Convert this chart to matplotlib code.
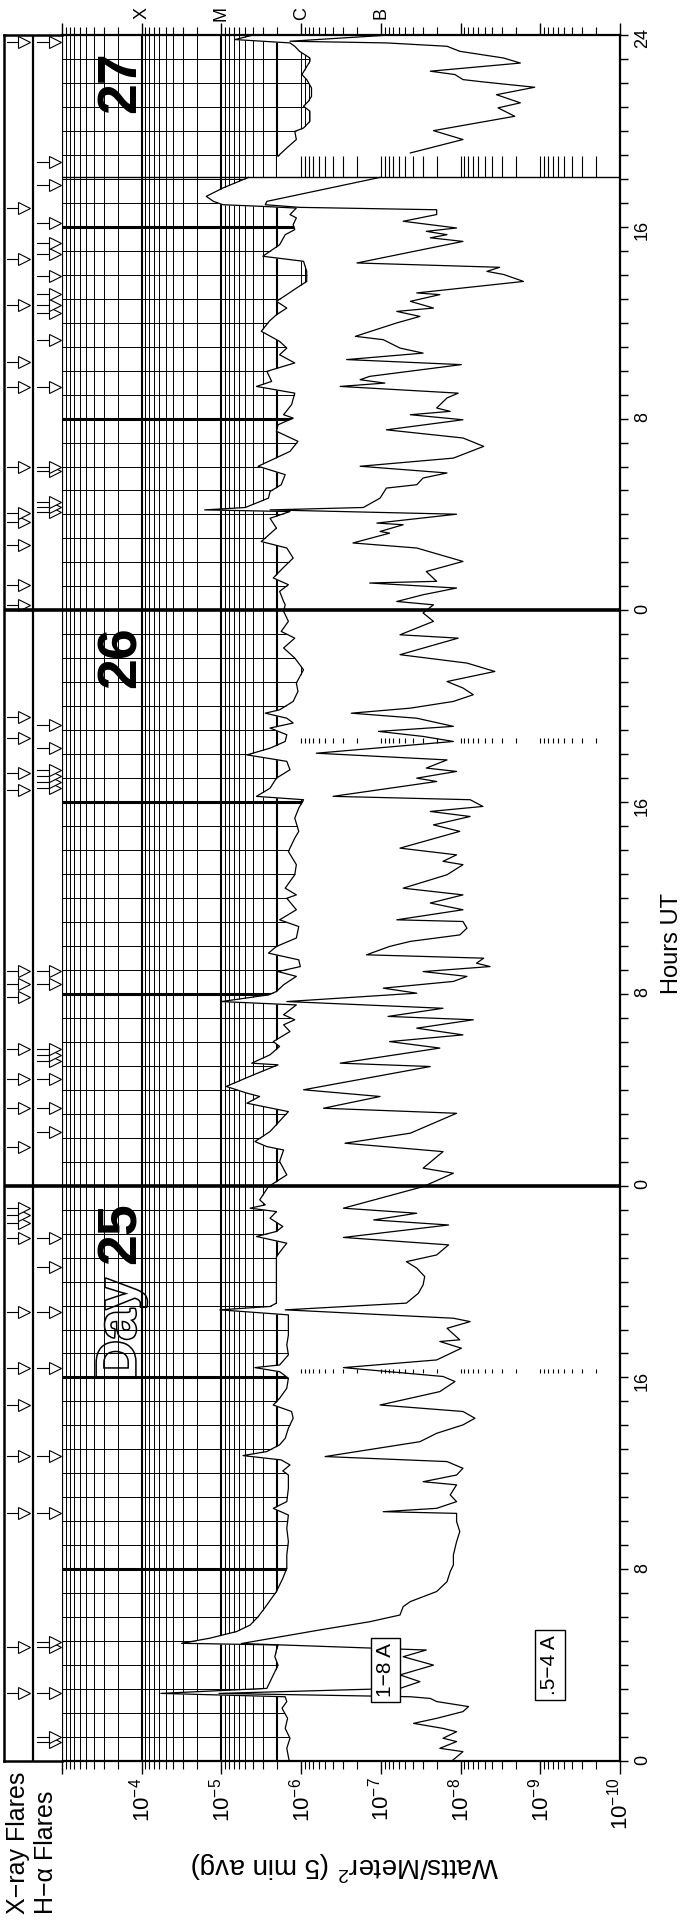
import numpy as np
import matplotlib
matplotlib.use('Agg')
import matplotlib.pyplot as plt
from matplotlib import patheffects
from matplotlib.transforms import blended_transform_factory

plt.rcParams['font.family'] = ['Liberation Sans', 'DejaVu Sans']
plt.rcParams['mathtext.fontset'] = 'custom'
plt.rcParams['mathtext.rm'] = 'Liberation Sans'
plt.rcParams['mathtext.it'] = 'Liberation Sans:italic'

# hours since 25 00 UT, log10 of flux (W/m^2)
t_long = [0.00, 0.53, 0.95, 1.36, 1.78, 2.20, 2.48, 2.68, 2.82, 3.03, 3.31, 3.59, 4.00, 4.35,
          4.63, 4.84, 4.91, 5.12, 5.40, 5.67, 6.02, 6.37, 6.79, 7.07, 7.62, 8.04, 8.60, 9.15,
          9.71, 10.26, 10.54, 10.82, 11.38, 11.93, 12.10, 12.35, 12.56, 12.74, 12.91, 13.19,
          13.46, 13.88, 14.30, 14.58, 14.85, 15.13, 15.55, 15.97, 16.24, 16.41, 16.52, 16.94,
          17.36, 17.77, 18.19, 18.61, 18.82, 18.96, 19.10, 19.86, 20.56, 21.04, 21.39, 21.60,
          21.88, 22.09, 22.30, 22.64, 22.92, 23.06, 23.20, 23.41, 23.76, 23.96, 24.45, 25.01,
          25.49, 25.63, 25.84, 26.26, 27.09, 27.44, 27.72, 27.86, 28.14, 28.62, 29.04, 29.11,
          29.46, 29.81, 30.01, 30.43, 30.71, 30.92, 31.13, 31.54, 31.68, 31.96, 32.10, 32.38,
          32.73, 32.93, 33.14, 33.42, 33.70, 33.98, 34.33, 34.81, 35.09, 35.51, 35.99, 36.13,
          36.41, 36.97, 37.39, 37.94, 38.50, 38.78, 39.33, 39.75, 40.10, 40.24, 40.58, 41.00,
          41.35, 41.70, 41.97, 42.25, 42.53, 42.81, 43.09, 43.30, 43.50, 43.71, 43.85, 44.20,
          44.62, 44.97, 45.52, 46.01, 46.43, 46.84, 47.12, 47.54, 47.96, 48.23, 48.37, 48.79,
          49.07, 49.35, 49.76, 50.18, 50.60, 50.87, 51.43, 51.84, 52.12, 52.19, 52.29, 52.68,
          52.96, 53.24, 53.66, 54.01, 54.63, 55.05, 55.47, 55.74, 56.02, 56.16, 56.58, 57.06,
          57.34, 57.55, 57.97, 58.32, 58.66, 58.94, 59.22, 59.64, 60.06, 60.33, 60.61, 60.89,
          61.17, 61.44, 61.72, 62.14, 62.56, 62.77, 62.98, 63.25, 63.67, 63.88, 64.09, 64.37,
          64.51, 64.78, 64.85, 64.92, 65.06, 65.27, 65.62, 66.06,
          66.94, 67.01, 67.29, 67.64, 67.98, 68.12, 68.40, 68.82, 69.03, 69.23, 69.44, 69.79,
          70.14, 70.35, 70.90, 71.04, 71.32, 71.53, 71.67, 71.81, 72.00]
f_long = [-5.85, -5.82, -5.86, -5.80, -5.83, -5.76, -5.82, -5.80, -4.24, -5.57, -5.61, -5.65, -5.71, -5.67,
          -5.69, -5.71, -4.50, -4.85, -5.19, -5.36, -5.46, -5.54, -5.63, -5.69, -5.77, -5.82, -5.82, -5.84,
          -5.82, -5.84, -5.65, -5.82, -5.84, -5.84, -5.77, -5.86, -5.75, -5.27, -5.57, -5.73,
          -5.80, -5.84, -5.90, -5.88, -5.65, -5.73, -5.82, -5.84, -5.73, -5.42, -5.73, -5.84,
          -5.82, -5.84, -5.84, -5.84, -4.98, -5.61, -5.69, -5.69, -5.69, -5.69, -5.77, -5.82,
          -5.44, -5.69, -5.77, -5.61, -5.69, -5.36, -5.55, -5.48, -5.55, -5.59, -5.82, -5.73,
          -5.78, -5.57, -5.42, -5.61, -5.84, -5.32, -5.48, -5.32, -5.06, -5.40, -5.71, -5.38,
          -5.61, -5.73, -5.65, -5.86, -5.78, -5.92, -5.78, -5.94, -5.00, -5.59, -5.69, -5.78,
          -5.94, -5.71, -5.99, -5.97, -5.59, -5.69, -5.94, -5.97, -5.73, -5.94, -5.82, -5.94,
          -5.80, -5.92, -5.94, -5.84, -5.92, -5.97, -5.92, -5.97, -6.03, -5.44, -5.61, -5.69,
          -5.86, -5.82, -5.32, -5.61, -5.80, -5.82, -5.61, -5.90, -5.82, -5.55, -5.73, -5.90,
          -5.96, -5.94, -6.03, -5.92, -5.78, -5.92, -5.75, -5.84, -5.78, -5.80, -5.78, -5.73,
          -5.84, -5.65, -5.77, -5.90, -5.82, -5.50, -5.69, -5.61, -5.86, -4.79, -5.30, -5.59,
          -5.61, -5.75, -5.80, -5.46, -5.86, -5.96, -5.69, -5.71, -5.90, -5.78, -5.88, -5.92,
          -5.44, -5.63, -5.57, -5.92, -5.73, -5.82, -5.73, -5.50, -5.60, -5.69, -5.82, -5.69,
          -5.82, -5.94, -6.07, -6.07, -6.03, -5.52, -5.61, -5.73, -5.80, -5.92, -5.90, -5.94,
          -5.86, -5.94, -5.52, -5.02, -4.90, -4.81, -5.02, -5.34,
          -5.71, -5.73, -5.82, -5.94, -5.92, -6.03, -6.11, -6.11, -6.03, -6.09, -6.13, -6.13,
          -6.07, -6.01, -6.11, -6.11, -5.98, -5.92, -5.86, -5.17, -5.40]

t_short = [0.00, 0.39, 0.53, 0.81, 0.95, 1.22, 1.36, 1.57, 1.78, 2.06, 2.27, 2.48, 2.61, 2.68, 2.82,
           3.03, 3.31, 3.59, 4.00, 4.35, 4.63, 4.90, 5.47, 5.81, 6.09, 6.44, 6.65, 7.07, 7.48, 7.90,
           8.18, 8.60, 9.15, 9.57, 9.99, 10.33, 10.40, 10.54, 10.82, 11.10, 11.52, 11.65, 11.93,
           12.21, 12.49, 12.70, 13.32, 13.67, 14.02, 14.30, 14.58, 14.85, 15.41, 15.83, 16.04,
           16.41, 16.73, 17.22, 17.50, 17.57, 18.05, 18.33, 18.47, 18.82, 19.10, 19.51, 19.86,
           20.21, 20.56, 20.83, 21.11, 21.53, 21.84, 22.36, 22.57, 22.85, 23.06, 23.96, 24.52,
           24.73, 25.42, 25.77, 26.19, 27.02, 27.23, 27.72, 28.00, 28.41, 28.97, 29.11, 29.74,
           30.01, 30.29, 30.57, 30.92, 31.06, 31.40, 31.68, 32.03, 32.24, 32.52, 32.73, 32.93,
           33.14, 33.28, 33.49, 33.63, 33.98, 34.19, 34.46, 34.74, 35.02, 35.09, 35.51, 35.79,
           36.13, 36.41, 36.97, 37.39, 37.53, 37.80, 38.08, 38.78, 39.05, 39.40, 39.61, 39.82,
           40.10, 40.24, 40.86, 41.00, 41.28, 41.42, 41.76, 42.04, 42.53, 42.74, 42.95, 43.16,
           43.50, 43.71, 43.92, 44.20, 44.48, 44.76, 45.03, 45.45, 45.80, 46.15, 46.84, 46.98,
           47.54, 47.89, 48.23, 48.37, 48.65, 48.93, 49.14, 49.21, 49.62, 50.04, 50.60, 50.81,
           51.22, 51.29, 51.57, 51.64, 52.01, 52.19, 52.29, 52.68, 53.10, 53.24, 53.52, 53.73,
           54.01, 54.35, 54.84, 55.19, 55.53, 55.95, 56.16, 56.30, 56.44, 56.86, 57.06, 57.34,
           57.48, 57.62, 57.76, 58.25, 58.46, 58.73, 58.94, 59.29, 59.43, 59.99, 60.26, 60.47,
           60.61, 60.89, 61.17, 61.24, 61.72, 62.01, 62.14, 62.31, 62.49, 63.39, 63.54, 63.67,
           63.81, 63.95, 64.23, 64.51, 64.71, 64.81, 64.92, 65.06, 66.06,
           67.08, 67.64, 68.01, 68.61, 68.96, 69.17, 69.51, 69.82, 70.04, 70.14, 70.35, 70.49,
           70.83, 71.04, 71.32, 71.53, 71.67, 71.74, 71.99]
f_short = [-7.89, -8.03, -7.74, -7.95, -7.78, -7.95, -7.78, -7.41, -7.70, -8.03, -8.10, -7.70, -7.62, -7.37, -4.97,
           -7.24, -7.49, -7.24, -7.66, -7.28, -7.57, -5.25, -6.24, -6.86, -7.24, -7.28, -7.37, -7.70, -7.83, -7.87,
           -7.91, -7.91, -7.95, -7.99, -7.95, -7.95, -7.03, -7.70, -7.95, -7.87, -7.95, -7.53, -7.95,
           -8.03, -7.83, -6.30, -7.49, -7.70, -8.03, -8.18, -8.03, -6.99, -7.74, -7.93, -7.78,
           -6.53, -7.70, -8.01, -7.74, -7.99, -7.83, -8.12, -7.91, -5.80, -7.32, -7.47, -7.53,
           -7.55, -7.45, -7.32, -7.70, -7.85, -6.53, -7.85, -6.91, -7.45, -6.53, -7.53, -7.91,
           -7.53, -7.78, -6.55, -7.37, -7.95, -6.28, -6.99, -6.03, -6.70, -7.62, -6.49, -7.74,
           -7.11, -8.03, -7.45, -8.16, -7.09, -7.78, -5.82, -7.45, -7.03, -7.91, -8.08, -7.53,
           -8.37, -8.20, -8.29, -6.82, -7.11, -7.37, -7.99, -8.08, -8.03, -7.20, -8.03, -7.62,
           -8.03, -7.28, -7.83, -8.03, -7.78, -7.95, -7.24, -7.99, -7.66, -8.12, -7.62, -8.28,
           -8.12, -6.40, -7.70, -7.45, -7.95, -7.57, -7.83, -6.19, -7.91, -7.53, -6.97, -7.91,
           -7.45, -6.63, -7.37, -7.91, -8.16, -8.03, -7.83, -8.43, -8.08, -7.24, -7.97, -7.24,
           -7.66, -7.53, -7.66, -7.20, -7.53, -7.95, -6.86, -7.70, -7.57, -8.03, -7.45, -6.65,
           -7.11, -6.99, -7.28, -6.95, -7.95, -5.61, -6.78, -6.99, -7.07, -7.45, -7.53, -7.83,
           -6.74, -7.91, -8.29, -8.03, -7.07, -8.03, -7.37, -7.87, -7.70, -7.83, -7.97, -6.49,
           -7.05, -6.74, -6.86, -8.01, -6.57, -7.53, -7.24, -7.03, -6.68, -7.20, -7.49, -7.20,
           -7.66, -7.37, -7.74, -7.45, -8.79, -8.54, -8.33, -8.49, -6.70, -8.03, -7.62, -7.83,
           -7.57, -7.95, -7.28, -7.70, -7.70, -5.98, -5.55, -5.57, -6.99,
           -7.37, -8.03, -7.66, -8.68, -8.47, -8.75, -8.45, -8.93, -8.29, -8.03, -7.93, -7.62,
           -8.75, -8.54, -7.99, -7.83, -7.07, -5.86, -7.07]

# data gaps (start, end hour)
gaps = [(16.17, 16.37), (42.46, 42.67), (66.06, 66.94)]

# flare event times (hours since 25 00 UT)
xray_flares = [2.82, 4.77, 10.33, 12.74, 14.85, 16.40, 18.74, 21.81, 22.43, 22.78, 23.06,
               25.63, 27.23, 28.45, 29.70, 31.89, 32.40, 32.97, 40.50, 41.20,
               42.66, 43.57, 48.23, 49.06, 50.73, 51.70, 52.05, 54.00, 57.31, 58.38, 60.74,
               62.65, 64.78, 71.70]
halpha_flares = [0.80, 1.01, 2.82, 4.77, 4.98, 10.33, 12.74, 16.40, 18.74, 20.62, 21.81,
                 26.25, 27.23, 28.45, 29.20, 29.45, 29.70, 32.40, 32.97, 40.60, 40.85,
                 41.10, 41.35, 42.26, 43.22, 52.10, 52.30, 52.50, 53.80, 54.00, 57.31, 59.29,
                 60.42, 60.74, 61.20, 61.95, 62.87, 63.34, 64.15, 65.73, 66.72, 71.70]

day_names = ['25', '26', '27']
class_letters = ['X', 'M', 'C', 'B']
class_levels = [1e-4, 1e-5, 1e-6, 1e-7]
decades = list(range(-10, -2))


W, H = 684, 1921
fig = plt.figure(figsize=(W / 100, H / 100), dpi=100)
ax = fig.add_axes([62 / W, 1 - 1761 / H, 558 / W, 1726 / H])
axf = fig.add_axes([3.5 / W, 1 - 1761 / H, 58.5 / W, 1726 / H])

ax.set_xscale('log')
ax.set_xlim(1e-3, 1e-10)
ax.set_ylim(0, 72)

majors = [10.0 ** e for e in decades]
minors = [k * 10.0 ** e for e in decades[:-1] for k in range(2, 10)]

# grid drawn only where flux is above the 1-8 A curve (white fill hides the rest)
for v in majors + minors:
    heavy = any(np.isclose(v, w) for w in (1e-4, 1e-5, 2e-6))
    ax.axvline(v, color='k', lw=1.5 if heavy else 0.7, zorder=1)
for h in range(1, 72):
    if h % 24 == 0:
        continue
    ax.axhline(h, color='k', lw=2.2 if h % 8 == 0 else 0.7, zorder=1)

tl = np.array(t_long)
fl = 10.0 ** np.array(f_long)
ts = np.array(t_short)
fs = 10.0 ** np.array(f_short)
g0, g1 = gaps[-1]
for m in (tl <= g0, tl >= g1):
    ax.fill_betweenx(tl[m], fl[m], 1e-11, color='white', lw=0, zorder=2)
ax.fill_betweenx([g0, g1], 2e-6, 1e-11, color='white', lw=0, zorder=2)


def with_gap(t, f):
    t = list(t)
    f = list(f)
    i = next(i for i, v in enumerate(t) if v > g0)
    return np.array(t[:i] + [np.nan] + t[i:]), np.array(list(f[:i]) + [np.nan] + list(f[i:]))


for t, f in ((tl, fl), (ts, fs)):
    tt, ff = with_gap(t, f)
    ax.plot(ff, tt, color='k', lw=0.9, zorder=3)

ax.axhline(g0, color='k', lw=1.0, zorder=3)
row = [1e-6] + [k * 10.0 ** e for e in range(-10, -6) for k in range(1, 10)][1:]
for a, b in gaps:
    ax.vlines(row, a, b, color='k', lw=0.8, zorder=3)

for d in (24, 48):
    ax.axhline(d, color='k', lw=2.6, zorder=4)
    axf.axhline(d, color='k', lw=2.6, zorder=4)

# axes ticks
ax.set_xticks(majors, ['' if e == -3 else r'$10^{%d}$' % e for e in decades])
ax.set_xticks(minors, minor=True)
ax.xaxis.set_minor_formatter(plt.NullFormatter())
ax.tick_params(axis='x', which='both', direction='out', top=True, bottom=True,
               labelrotation=90, labelsize=16, pad=3)
ax.tick_params(axis='x', which='major', length=9, width=1)
ax.tick_params(axis='x', which='minor', length=6, width=0.8)
ax.yaxis.tick_right()
hrs = list(range(0, 73))
ax.set_yticks(hrs, ['24' if h == 72 else (str(h % 24) if h % 8 == 0 else '') for h in hrs])
ax.tick_params(axis='y', which='major', direction='out', length=6, width=1,
               labelrotation=90, labelsize=13, pad=4, left=False, right=True)
for s in ax.spines.values():
    s.set_linewidth(1.6)
    s.set_zorder(5)

top = blended_transform_factory(ax.transData, ax.transAxes)
for lev, ch in zip(class_levels, class_letters):
    ax.text(lev, 1.0125, ch, transform=top, rotation=90, ha='center', va='center',
            fontsize=13, clip_on=False)

# day labels
side = blended_transform_factory(ax.transAxes, ax.transData)
for i, d in enumerate(day_names):
    ax.text(0.106, 24 * i + 22.03, d, transform=side, rotation=90, ha='center', va='center',
            fontsize=40, fontweight='bold', zorder=5)
ax.text(0.106, 18.0, 'Day', transform=side, rotation=90, ha='center', va='center',
        fontsize=40, fontweight='bold', color='white', zorder=0.5,
        path_effects=[patheffects.withStroke(linewidth=2.2, foreground='k')])

ax.text(10 ** -7.06, 3.8, '1−8 A', rotation=90, ha='center', va='center', fontsize=15, zorder=5,
        bbox=dict(boxstyle='square,pad=0.25', fc='white', ec='k', lw=1))
ax.text(10 ** -9.12, 4.0, '.5−4 A', rotation=90, ha='center', va='center', fontsize=15, zorder=5,
        bbox=dict(boxstyle='square,pad=0.25', fc='white', ec='k', lw=1))

# flare panel
axf.set_xlim(0, 58.5)
axf.set_ylim(0, 72)
axf.set_xticks([])
axf.set_yticks([])
axf.spines['right'].set_visible(False)
for s in ('left', 'top', 'bottom'):
    axf.spines[s].set_linewidth(1.8)
axf.axvline(29.3, color='k', lw=1.6)
for col, times in ((0, xray_flares), (30.5, halpha_flares)):
    for t in times:
        axf.plot([col + 3, col + 14], [t, t], color='k', lw=0.8)
        axf.plot(col + 20.5, t, marker='>', ms=8.5, mfc='white', mec='k', mew=0.8)

fig.text(345 / W, 1 - 1866 / H, 'Watts/Meter$^2$ (5 min avg)', rotation=180,
         ha='center', va='center', fontsize=20)
fig.text(672 / W, 1 - 944 / H, 'Hours UT', rotation=90, ha='center', va='center', fontsize=17)
fig.text(18 / W, 1 - 1914 / H, 'X−ray Flares', rotation=90, ha='center', va='bottom', fontsize=18)
fig.text(46 / W, 1 - 1914 / H, 'H−α Flares', rotation=90, ha='center', va='bottom', fontsize=18)

fig.savefig('out.png', dpi=100)
